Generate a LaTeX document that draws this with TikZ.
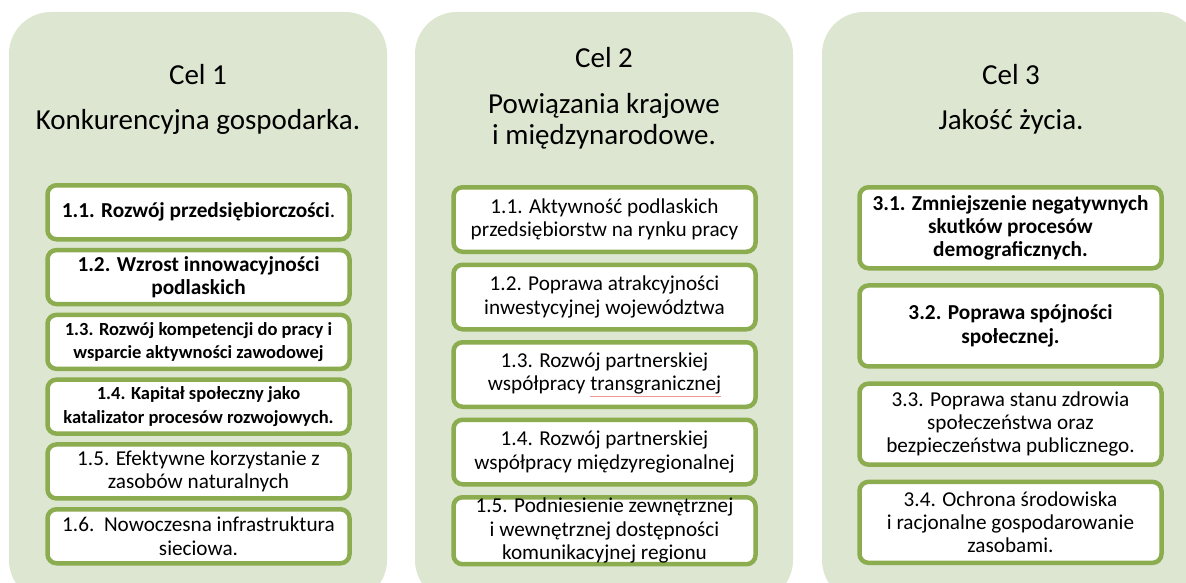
\documentclass[tikz,border=0pt]{standalone}
\usepackage{fontspec}
\setmainfont{Carlito}
\usetikzlibrary{positioning}
\definecolor{celfill}{RGB}{221,230,208}
\definecolor{celgreen}{RGB}{140,172,80}
\definecolor{spell}{RGB}{240,150,150}
\tikzstyle{panel} = [fill=celfill, rounded corners=42pt]
\tikzstyle{heading} = [align=center, inner sep=0pt, font=\fontsize{29}{32}\selectfont]
\tikzstyle{task} = [draw=celgreen, line width=4.5pt, fill=white, rounded corners=9pt, align=center, inner sep=1pt, minimum width=302pt, font=\fontsize{21.2}{23.3}\selectfont]
\tikzstyle{taskbf} = [task, font=\fontsize{21.3}{23.3}\selectfont\bfseries]
\tikzstyle{tasksm} = [task, font=\fontsize{18.5}{23.3}\selectfont\bfseries]

\begin{document}
\begin{tikzpicture}[x=1pt, y=-1pt]
    \clip (0,0) rectangle (1186,583);
    \fill [panel] (9,12) rectangle (387,602);
    \fill [panel] (415,12) rectangle (793,602);
    \fill [panel] (822,12) rectangle (1200,602);

    % Goal headings.
    \node (cel1) [heading, anchor=base] at (198,130) {Cel 1\\[13pt]Konkurencyjna gospodarka.};
    \node (cel2) [heading, anchor=base] at (604,145) {Cel 2\\[13pt]Powiązania krajowe\\i międzynarodowe.};
    \node (cel3) [heading, anchor=base] at (1011,130) {Cel 3\\[13pt]Jakość życia.};

    % Goal 1.
    \begin{scope}[node distance=6.3pt, task/.append style={minimum height=54pt}]
        \node (t11) [taskbf, anchor=north] at (198.5,183) {\textbf{1.1. Rozwój przedsiębiorczości}\mdseries.};
        \node (t12) [taskbf, below=of t11] {1.2. Wzrost innowacyjności\\podlaskich};
        \node (t13) [tasksm, below=of t12] {1.3. Rozwój kompetencji do pracy i\\wsparcie aktywności zawodowej};
        \node (t14) [tasksm, below=of t13] {1.4. Kapitał społeczny jako\\katalizator procesów rozwojowych.};
        \node (t15) [task, below=of t14] {1.5. Efektywne korzystanie z\\zasobów naturalnych};
        \node (t16) [task, below=of t15] {1.6.\ \ Nowoczesna infrastruktura\\sieciowa.};
    \end{scope}

    % Goal 2.
    \begin{scope}[node distance=8.5pt, task/.append style={minimum height=64.5pt}]
        \node (t21) [task, anchor=north] at (604.5,185) {1.1. Aktywność podlaskich\\przedsiębiorstw na rynku pracy};
        \node (t22) [task, below=of t21] {1.2. Poprawa atrakcyjności\\inwestycyjnej województwa};
        \node (t23) [task, below=of t22] {1.3. Rozwój partnerskiej\\współpracy {\color{spell}\underline{\color{black}transgranicznej}}};
        \node (t24) [task, below=of t23] {1.4. Rozwój partnerskiej\\współpracy międzyregionalnej};
        \node (t25) [task, below=of t24] {1.5. Podniesienie zewnętrznej\\i wewnętrznej dostępności\\komunikacyjnej regionu};
    \end{scope}

    % Goal 3.
    \begin{scope}[node distance=12.7pt, task/.append style={minimum height=81pt}]
        \node (t31) [taskbf, anchor=north] at (1010.5,185) {3.1. Zmniejszenie negatywnych\\skutków procesów\\demograficznych.};
        \node (t32) [taskbf, below=of t31] {3.2. Poprawa spójności\\społecznej.};
        \node (t33) [task, below=of t32] {3.3. Poprawa stanu zdrowia\\społeczeństwa oraz\\bezpieczeństwa publicznego.};
        \node (t34) [task, below=of t33] {3.4. Ochrona środowiska\\i racjonalne gospodarowanie\\zasobami.};
    \end{scope}
\end{tikzpicture}
\end{document}
